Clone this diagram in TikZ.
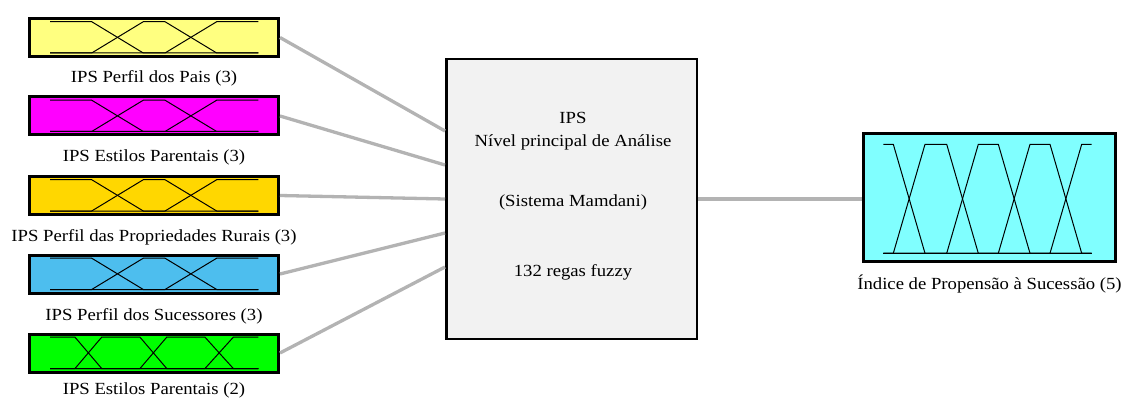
\documentclass[tikz,border=0pt]{standalone}
\usepackage{fontspec}
\setmainfont{Liberation Serif}[FakeStretch=1.1]
\usetikzlibrary{calc}
\definecolor{cyel}{HTML}{FFFF80}
\definecolor{cmag}{HTML}{FF00FF}
\definecolor{cgold}{HTML}{FFD700}
\definecolor{cblue}{HTML}{4DBEEE}
\definecolor{cgreen}{HTML}{00FF00}
\definecolor{ccyan}{HTML}{80FFFF}
\definecolor{ccent}{HTML}{F2F2F2}
\definecolor{cconn}{HTML}{B3B3B3}
\begin{document}
\begin{tikzpicture}[x=1pt,y=-1pt,
  inbox/.style={draw=black,line width=3pt,inner sep=0pt,minimum width=249pt,minimum height=38pt},
  mainbox/.style={draw=black,line width=2.5pt,fill=ccent,inner sep=0pt,minimum width=250.5pt,minimum height=279.5pt},
  outbox/.style={draw=black,line width=3pt,fill=ccyan,inner sep=0pt,minimum width=252pt,minimum height=128pt},
  lbl/.style={font=\fontsize{17}{20}\selectfont,inner sep=0pt,anchor=base},
  conn/.style={draw=cconn,line width=3.3pt},
  mf/.style={draw=black,line width=1pt,line join=miter}
]
\useasboundingbox (0,0) rectangle (1121,398);
\newcommand{\mfthree}[1]{%
  \begin{scope}[shift={(#1.north west)}]
    \draw[mf] (22,4.7)--(63.7,4.7)--(115.3,36)--(230.3,36);
    \draw[mf] (22,36)--(63.7,36)--(115.3,4.7)--(137,4.7)--(188.7,36)--(230.3,36);
    \draw[mf] (22,36)--(137,36)--(188.7,4.7)--(230.3,4.7);
  \end{scope}}
% input boxes
\node[inbox,fill=cyel]   (in1) at (154,37.5) {};
\node[inbox,fill=cmag]   (in2) at (154,116) {};
\node[inbox,fill=cgold]  (in3) at (154,195.5) {};
\node[inbox,fill=cblue]  (in4) at (154,274) {};
\node[inbox,fill=cgreen] (in5) at (154,353) {};
\mfthree{in1}
\mfthree{in2}
\mfthree{in3}
\mfthree{in4}
\begin{scope}[shift={(in5.north west)}]
  \draw[mf] (22,4.7)--(47,4.7)--(73.7,36)--(230.3,36);
  \draw[mf] (22,36)--(47,36)--(73.7,4.7)--(112,4.7)--(138.7,36)--(230.3,36);
  \draw[mf] (22,36)--(112,36)--(138.7,4.7)--(177,4.7)--(205.3,36)--(230.3,36);
  \draw[mf] (22,36)--(177,36)--(205.3,4.7)--(230.3,4.7);
\end{scope}
% labels
\node[lbl] (l1) at (154,83) {IPS Perfil dos Pais (3)};
\node[lbl] (l2) at (154,161.5) {IPS Estilos Parentais (3)};
\node[lbl] (l3) at (154,241) {IPS Perfil das Propriedades Rurais (3)};
\node[lbl] (l4) at (154,320) {IPS Perfil dos Sucessores (3)};
\node[lbl] (l5) at (154,394) {IPS Estilos Parentais (2)};
% main box
\node[mainbox] (c) at (571.5,199) {};
\node[lbl] (t1) at (573,124) {IPS};
\node[lbl] (t2) at (573,146.5) {Nível principal de Análise};
\node[lbl] (t3) at (573,207) {(Sistema Mamdani)};
\node[lbl] (t4) at (573,276.5) {132 regas fuzzy};
% output box
\node[outbox] (out) at (989.5,197.5) {};
\begin{scope}[shift={(out.north west)}]
  \draw[mf] (21.3,12.3)--(31.3,12.3)--(63,121.3)--(229.7,121.3);
  \draw[mf] (21.3,121.3)--(31.3,121.3)--(63,12.3)--(84.7,12.3)--(116.3,121.3)--(229.7,121.3);
  \draw[mf] (21.3,121.3)--(84.7,121.3)--(116.3,12.3)--(136.3,12.3)--(168,121.3)--(229.7,121.3);
  \draw[mf] (21.3,121.3)--(136.3,121.3)--(168,12.3)--(188,12.3)--(219.7,121.3)--(229.7,121.3);
  \draw[mf] (21.3,121.3)--(188,121.3)--(219.7,12.3)--(229.7,12.3);
\end{scope}
\node[lbl] (lo) at (989.5,289) {Índice de Propensão à Sucessão (5)};
% connectors
\draw[conn] (in1.east) -- ($(c.west)+(0,-68)$);
\draw[conn] (in2.east) -- ($(c.west)+(0,-34)$);
\draw[conn] (in3.east) -- (c.west);
\draw[conn] (in4.east) -- ($(c.west)+(0,34)$);
\draw[conn] (in5.east) -- ($(c.west)+(0,68)$);
\draw[conn] (c.east) -- (c.east -| out.west);
\end{tikzpicture}
\end{document}
